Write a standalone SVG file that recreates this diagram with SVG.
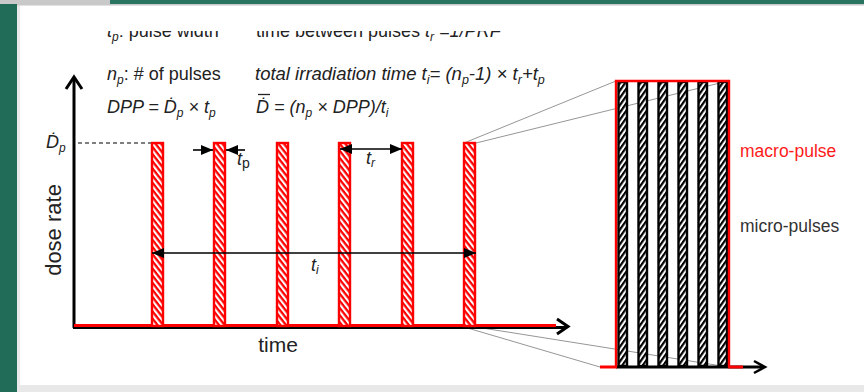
<svg xmlns="http://www.w3.org/2000/svg" width="864" height="392" viewBox="0 0 864 392">
<defs>
<style>
text{font-family:"Liberation Sans",Arial,sans-serif;fill:#222}
.it{font-style:italic}
.lbl{font-size:18px}
.pulse{fill:url(#redHatch);stroke:#ff0000;stroke-width:2.4}
.micro{fill:url(#blackHatch);stroke:#000;stroke-width:2.4}
.proj{stroke:#8a8a8a;stroke-width:0.9;fill:none}
.arr{stroke:#000;stroke-width:1.6}
</style>
<pattern id="redHatch" patternUnits="userSpaceOnUse" width="8" height="4.4" patternTransform="rotate(52)">
<rect width="8" height="4.4" fill="#fff"/><rect width="8" height="2.3" fill="#ff0000"/>
</pattern>
<pattern id="blackHatch" patternUnits="userSpaceOnUse" width="8" height="4.2" patternTransform="rotate(-55)">
<rect width="8" height="4.2" fill="#fff"/><rect width="8" height="2.2" fill="#000"/>
</pattern>
<marker id="ah" markerUnits="userSpaceOnUse" markerWidth="14" markerHeight="10" refX="12" refY="5" orient="auto-start-reverse">
<path d="M0,0 L12,5 L0,10 z" fill="#000"/>
</marker>
<clipPath id="topclip"><rect x="0" y="31" width="864" height="40"/></clipPath>
</defs>
<rect width="864" height="392" fill="#fff"/>
<g id="frame">
<rect x="0" y="0" width="17" height="392" fill="#216c58"/>
<rect x="17" y="0" width="3" height="392" fill="#e9e9e9"/>
<rect x="0" y="0" width="110" height="4" fill="#c9c9c9"/>
<rect x="110" y="0" width="754" height="4" fill="#2a7561"/>
<rect x="17" y="4" width="847" height="1.5" fill="#c8c8c8"/>
<rect x="17" y="385" width="847" height="7" fill="#e8e8e8"/>
</g>
<g id="legend">
<g clip-path="url(#topclip)">
<text class="lbl" x="107" y="37"><tspan class="it">t</tspan><tspan class="it" font-size="12" dy="4">p</tspan><tspan dy="-4">: pulse width</tspan></text>
<text class="lbl" x="256" y="37">time between pulses <tspan class="it">t</tspan><tspan class="it" font-size="12" dy="4">r</tspan><tspan class="it" dy="-4"> =1/PRF</tspan></text>
</g>
<text class="lbl" x="107" y="80"><tspan class="it">n</tspan><tspan class="it" font-size="12" dy="4">p</tspan><tspan dy="-4">: # of pulses</tspan></text>
<text class="it" font-size="18.5" x="255" y="80">total irradiation time t<tspan font-size="12.5" dy="4">i</tspan><tspan dy="-4">= (n</tspan><tspan font-size="12.5" dy="4">p</tspan><tspan dy="-4">-1) × t</tspan><tspan font-size="12.5" dy="4">r</tspan><tspan dy="-4">+t</tspan><tspan font-size="12.5" dy="4">p</tspan></text>
<text class="lbl it" x="107" y="113">DPP = Ḋ<tspan font-size="12" dy="4">p</tspan><tspan dy="-4"> × t</tspan><tspan font-size="12" dy="4">p</tspan></text>
<text class="lbl it" x="256" y="113">Ḋ = (n<tspan font-size="12" dy="4">p</tspan><tspan dy="-4"> × DPP)/t</tspan><tspan font-size="12" dy="4">i</tspan></text>
<line x1="258" y1="94.5" x2="270" y2="94.5" stroke="#222" stroke-width="1.3"/>
</g>
<g id="axes-labels">
<text class="it" x="46" y="148" font-size="18">Ḋ<tspan font-size="12" dy="4">p</tspan></text>
<text x="0" y="0" font-size="22" text-anchor="middle" transform="translate(61,230) rotate(-90)">dose rate</text>
<text x="278" y="352" font-size="21" text-anchor="middle">time</text>
<text x="237" y="165" font-size="18" class="it">t<tspan font-style="normal" font-size="14" dy="3">p</tspan></text>
<text x="366" y="164" font-size="18" class="it">t<tspan font-size="12" dy="3">r</tspan></text>
<text x="311" y="271" font-size="18" class="it">t<tspan font-size="12" dy="3">i</tspan></text>
<text x="740" y="157" font-size="17.5" style="fill:#ff1a1a">macro-pulse</text>
<text x="740" y="232" font-size="17.5" style="fill:#333">micro-pulses</text>
</g>
<g id="connectors-under">
<line class="proj" x1="464" y1="143" x2="616" y2="81"/>
<line class="proj" x1="476" y1="143" x2="728" y2="81"/>
<line class="proj" x1="464" y1="327" x2="600" y2="367"/>
<line class="proj" x1="476" y1="327" x2="728" y2="367"/>
<line x1="78" y1="143" x2="151" y2="143" stroke="#000" stroke-width="1" stroke-dasharray="4 3"/>
<line x1="74" y1="79" x2="74" y2="328" stroke="#000" stroke-width="3"/>
<path d="M66,89 L74,77 L82,89" fill="none" stroke="#000" stroke-width="3"/>
<line x1="73" y1="327.5" x2="567" y2="327.5" stroke="#000" stroke-width="3"/>
<line x1="74" y1="325.5" x2="556" y2="325.5" stroke="#ff0000" stroke-width="3"/>
<path d="M557,319 L568,326.5 L557,334" fill="none" stroke="#000" stroke-width="3"/>
</g>
<g id="pulse1"><rect class="pulse" x="152" y="143" width="11" height="183"/></g>
<g id="pulse2"><rect class="pulse" x="214" y="143" width="11" height="183"/></g>
<g id="pulse3"><rect class="pulse" x="277" y="143" width="11" height="183"/></g>
<g id="pulse4"><rect class="pulse" x="339" y="143" width="11" height="183"/></g>
<g id="pulse5"><rect class="pulse" x="402" y="143" width="11" height="183"/></g>
<g id="pulse6"><rect class="pulse" x="464" y="143" width="11" height="183"/></g>
<g id="connectors">
<line class="arr" x1="193" y1="150" x2="213" y2="150" marker-end="url(#ah)"/>
<line class="arr" x1="245" y1="150" x2="226" y2="150" marker-end="url(#ah)"/>
<line class="arr" x1="340" y1="149" x2="402" y2="149" marker-start="url(#ah)" marker-end="url(#ah)"/>
<line class="arr" x1="152" y1="253" x2="476" y2="253" marker-start="url(#ah)" marker-end="url(#ah)"/>
<line x1="616" y1="367" x2="764" y2="367" stroke="#000" stroke-width="3"/>
<path d="M754,361 L765,367 L754,373" fill="none" stroke="#000" stroke-width="2.5"/>
<line x1="600" y1="367" x2="617" y2="367" stroke="#ff0000" stroke-width="3"/>
<line x1="728" y1="367" x2="743" y2="367" stroke="#ff0000" stroke-width="3"/>
</g>
<g id="macro-pulse">
<rect class="micro" x="618.5" y="82" width="8.5" height="284"/>
<rect class="micro" x="638.5" y="82" width="8.5" height="284"/>
<rect class="micro" x="658.5" y="82" width="8.5" height="284"/>
<rect class="micro" x="678.5" y="82" width="8.5" height="284"/>
<rect class="micro" x="698.5" y="82" width="8.5" height="284"/>
<rect class="micro" x="718.5" y="82" width="8.5" height="284"/>
<path d="M616,367 L616,81 L729,81 L729,367" fill="none" stroke="#ff0000" stroke-width="2.4"/>
</g>
</svg>
